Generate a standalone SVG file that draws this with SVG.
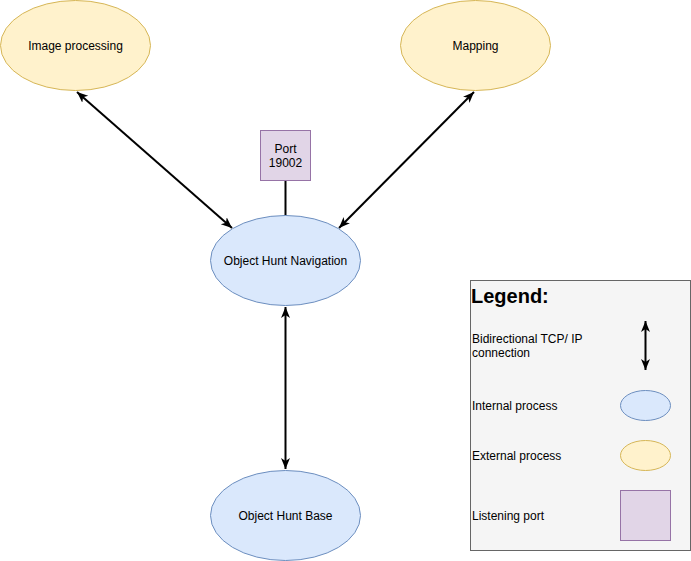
<svg xmlns="http://www.w3.org/2000/svg" width="691" height="561" viewBox="0 0 691 561">
<style>
text{font-family:"Liberation Sans",Arial,sans-serif;font-size:12px;fill:#000}
.c{text-anchor:middle}
.int{fill:#dae8fc;stroke:#6c8ebf}
.ext{fill:#fff2cc;stroke:#d6b656}
.port{fill:#e1d5e7;stroke:#9673a6}
.edge{stroke:#000;stroke-width:2;fill:none}
</style>
<defs>
<marker id="ah" markerUnits="userSpaceOnUse" markerWidth="12" markerHeight="10" refX="11" refY="5" orient="auto-start-reverse" viewBox="0 0 12 10">
<path d="M0,0.5 L11,5 L0,9.5 L3,5 Z" fill="#000"/>
</marker>
</defs>
<rect width="691" height="561" fill="#fff"/>
<g id="connectors">
<line class="edge" x1="77" y1="92" x2="232" y2="228" marker-start="url(#ah)" marker-end="url(#ah)"/>
<line class="edge" x1="474" y1="92" x2="339" y2="228" marker-start="url(#ah)" marker-end="url(#ah)"/>
<line class="edge" x1="285.5" y1="180.5" x2="285.5" y2="215.5"/>
<line class="edge" x1="285.5" y1="307" x2="285.5" y2="469" marker-start="url(#ah)" marker-end="url(#ah)"/>
</g>
<g id="image-processing">
<ellipse class="ext" cx="75.5" cy="45.5" rx="75" ry="45"/>
<text class="c" x="75.5" y="49.5">Image processing</text>
</g>
<g id="mapping">
<ellipse class="ext" cx="475.5" cy="45.5" rx="75" ry="45"/>
<text class="c" x="475.5" y="49.5">Mapping</text>
</g>
<g id="port">
<rect class="port" x="260.5" y="130.5" width="50" height="50"/>
<text class="c" x="285.5" y="152.5">Port</text>
<text class="c" x="285.5" y="166.5">19002</text>
</g>
<g id="navigation">
<ellipse class="int" cx="285.5" cy="260.5" rx="75" ry="45"/>
<text class="c" x="285.5" y="264.5">Object Hunt Navigation</text>
</g>
<g id="base">
<ellipse class="int" cx="285.5" cy="515.5" rx="75" ry="45"/>
<text class="c" x="285.5" y="519.5">Object Hunt Base</text>
</g>
<g id="legend">
<rect x="470.5" y="280.5" width="220" height="270" fill="#f5f5f5" stroke="#666666"/>
<text x="471" y="303" style="font-size:20px;font-weight:bold">Legend:</text>
<text x="472" y="343">Bidirectional TCP/ IP</text>
<text x="472" y="357">connection</text>
<line class="edge" x1="645.5" y1="321" x2="645.5" y2="370" marker-start="url(#ah)" marker-end="url(#ah)"/>
<text x="472" y="410">Internal process</text>
<ellipse class="int" cx="645.5" cy="405.5" rx="25" ry="15"/>
<text x="472" y="460">External process</text>
<ellipse class="ext" cx="645.5" cy="455.5" rx="25" ry="15"/>
<text x="472" y="520">Listening port</text>
<rect class="port" x="620.5" y="490.5" width="50" height="50"/>
</g>
</svg>
